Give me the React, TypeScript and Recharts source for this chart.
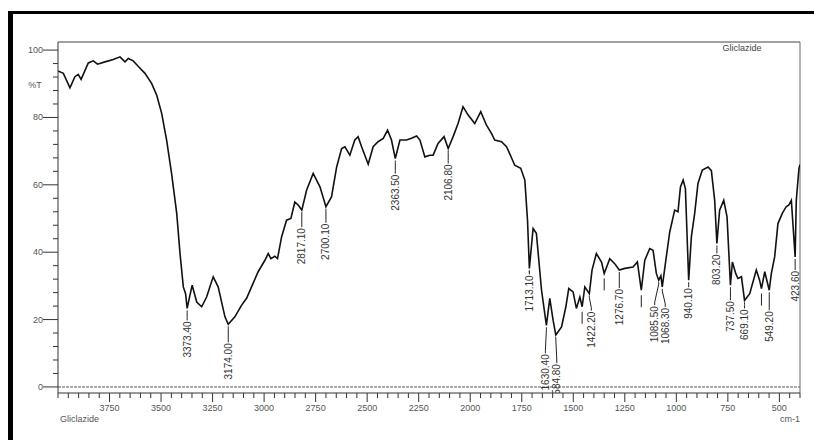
import { ComposedChart, Line, Scatter, XAxis, YAxis, ReferenceLine } from 'recharts'

// IR spectrum of Gliclazide, wavenumber (cm-1) vs %T
const wavenumbers = [
    4000, 3974, 3942, 3918, 3902, 3888, 3853, 3829, 3808, 3772, 3732, 3699, 3675, 3659, 3635, 3611,
    3578, 3546, 3521, 3497, 3473, 3449, 3424, 3408, 3392, 3381, 3373.4, 3360, 3349, 3327, 3303, 3279,
    3247, 3223, 3190, 3174, 3142, 3109, 3085, 3061, 3029, 2996, 2980, 2967, 2948, 2935, 2915, 2891,
    2870, 2851, 2835, 2817.1, 2794, 2762, 2729, 2700.1, 2673, 2648, 2624, 2608, 2584, 2560, 2544, 2527,
    2495, 2471, 2447, 2422, 2401, 2382, 2363.5, 2341, 2309, 2285, 2260, 2244, 2220, 2196, 2180, 2156,
    2127, 2106.8, 2083, 2059, 2035, 2010, 1978, 1949, 1921, 1897, 1881, 1848, 1824, 1816, 1784, 1755,
    1735, 1722, 1713.1, 1695, 1679, 1654, 1630.4, 1614, 1598, 1584.8, 1557, 1536, 1522, 1501, 1485,
    1468, 1457, 1444, 1422.2, 1409, 1388, 1363, 1350, 1323, 1299, 1276.7, 1250, 1210, 1189, 1170,
    1153, 1129, 1113, 1097, 1085.5, 1075, 1068.3, 1051, 1032, 1008, 992, 980, 967, 956, 940.1, 927,
    911, 895, 874, 846, 830, 814, 803.2, 790, 770, 754, 737.5, 728, 712, 701, 684, 669.1, 644, 612,
    596, 587, 571, 549.2, 539, 523, 507, 486, 467, 454, 442, 423.6, 418, 405, 400,
]
const transmittance = [
    93.8, 93.1, 88.8, 92.1, 92.8, 91.3, 96.2, 96.8, 95.8, 96.5, 97.2, 98.0, 96.5, 97.5, 96.8, 95.2,
    93.1, 90.1, 86.6, 81.2, 73.3, 63.4, 51.5, 39.6, 29.7, 27.7, 23.3, 27.2, 30.2, 25.2, 23.8, 26.7,
    32.7, 29.7, 20.8, 18.6, 20.8, 24.3, 26.3, 29.7, 34.2, 37.6, 39.6, 38.1, 38.8, 38.1, 44.6, 49.5,
    50.0, 54.9, 54.0, 52.5, 58.4, 63.4, 59.4, 53.5, 56.4, 65.3, 70.8, 71.3, 68.8, 73.3, 74.3, 71.3,
    66.1, 71.3, 72.8, 73.8, 76.2, 73.3, 67.8, 73.3, 73.3, 73.8, 74.5, 73.3, 68.3, 68.8, 68.8, 72.3,
    74.3, 70.8, 74.3, 78.2, 83.2, 80.7, 78.2, 81.7, 77.7, 75.3, 73.3, 72.8, 71.3, 70.3, 65.8, 64.9,
    61.4, 49.5, 35.2, 47.0, 45.6, 28.7, 18.3, 26.3, 19.8, 15.4, 17.8, 23.8, 29.2, 28.2, 23.3,
    26.7, 23.8, 29.7, 27.7, 34.7, 39.6, 37.1, 33.7, 38.1, 36.6, 34.7, 35.2, 35.6, 37.1, 28.7,
    37.6, 41.1, 40.6, 33.7, 31.7, 33.0, 29.7, 37.6, 46.0, 52.5, 52.0, 59.4, 61.4, 58.9, 31.7, 44.6,
    51.5, 60.4, 64.4, 65.3, 64.2, 55.4, 42.6, 52.5, 55.4, 50.5, 30.2, 37.1, 33.7, 32.2, 32.7, 25.7, 27.7, 34.7,
    31.7, 29.2, 34.2, 28.7, 33.7, 38.6, 48.5, 51.5, 53.5, 54.0, 55.4, 38.6, 55.4, 64.9, 66.0,
]

const peakLabels = [
    '3373.40', '3174.00', '2817.10', '2700.10', '2363.50', '2106.80', '1713.10', '1630.40', '1584.80',
    '1422.20', '1276.70', '1085.50', '1068.30', '940.10', '803.20', '737.50', '669.10', '549.20', '423.60',
]
// unlabelled peak marks
const minorMarks = [1457, 1350, 1170, 587]

const xLabelTicks = [3750, 3500, 3250, 3000, 2750, 2500, 2250, 2000, 1750, 1500, 1250, 1000, 750, 500]
const yLabelTicks = [0, 20, 40, 60, 80, 100]

// gap in px from peak to the label text
const labelGap: Record<string, number> = {
    '3373.40': 12, '3174.00': 18, '2817.10': 17, '2700.10': 16, '2363.50': 15, '2106.80': 15,
    '1713.10': 6, '1630.40': 28, '1584.80': 28, '1422.20': 17, '1276.70': 18, '1085.50': 25,
    '1068.30': 20, '940.10': 7, '803.20': 10, '737.50': 15, '669.10': 8, '549.20': 20, '423.60': 13,
}
// sideways shift of crowded labels
const labelShift: Record<string, number> = {
    '1085.50': -4, '1068.30': 3, '1422.20': 2, '1630.40': -1, '1584.80': 1,
}

const spectrum = wavenumbers.map((wn, i) => ({ wn, t: transmittance[i] }))
const lookup = (wn: number) => {
    const i = wavenumbers.findIndex((w) => Math.abs(w - wn) < 0.01)
    return transmittance[i]
}
const peaks = peakLabels.map((label) => {
    const wn = parseFloat(label)
    return { wn, p: lookup(wn), label }
})
const marks = minorMarks.map((wn) => ({ wn, p: lookup(wn), label: '' }))

const xTicks: number[] = []
for (let v = 400; v <= 4000; v += 50) xTicks.push(v)
const yTicks: number[] = []
for (let v = 0; v <= 100; v += 4) yTicks.push(v)

const FONT = '"Liberation Sans", Arial, sans-serif'

const XTick = (props: any) => {
    const { x, y, payload } = props
    const major = xLabelTicks.includes(payload.value)
    return (
        <g>
            <line x1={x} y1={y} x2={x} y2={y + (major ? 9 : 5)} stroke='#333' strokeWidth={1} />
            {major && (
                <text x={x} y={y + 18} textAnchor='middle' fontSize={9} fill='#555' fontFamily={FONT}>
                    {payload.value}
                </text>
            )}
        </g>
    )
}

const YTick = (props: any) => {
    const { x, y, payload } = props
    const major = yLabelTicks.includes(payload.value)
    return (
        <g>
            <line x1={x - (major ? 15 : 5)} y1={y} x2={x} y2={y} stroke='#333' strokeWidth={1} />
            {major && (
                <text x={x - 15} y={y + 3} textAnchor='end' fontSize={9} fill='#555' fontFamily={FONT}>
                    {payload.value}
                </text>
            )}
        </g>
    )
}

const PeakMark = (props: any) => {
    const { cx, cy, payload } = props
    if (!payload.label) {
        return <line x1={cx} y1={cy + 5} x2={cx} y2={cy + 17} stroke='#222' strokeWidth={1} />
    }
    const gap = labelGap[payload.label] ?? 12
    const shift = labelShift[payload.label] ?? 0
    const top = cy + gap
    const tx = cx + shift
    return (
        <g>
            <polyline
                points={`${cx},${cy + 2} ${cx},${cy + 4} ${tx},${top - 3} ${tx},${top}`}
                fill='none'
                stroke='#222'
                strokeWidth={1}
            />
            <text
                x={tx}
                y={top + 1}
                transform={`rotate(-90, ${tx}, ${top + 1})`}
                textAnchor='end'
                dominantBaseline='central'
                fontSize={10}
                fill='#333'
                fontFamily={FONT}
            >
                {payload.label}
            </text>
        </g>
    )
}

export default function App() {
    return (
        <div style={{ position: 'absolute', left: 0, top: 0, width: 814, height: 440, background: '#fff' }}>
            <div
                style={{
                    position: 'absolute',
                    left: 8,
                    top: 11,
                    width: 806,
                    height: 429,
                    borderTop: '3px solid #000',
                    borderLeft: '5px solid #000',
                    boxSizing: 'border-box',
                }}
            />
            <ComposedChart
                width={814}
                height={440}
                data={spectrum}
                margin={{ top: 42, right: 14, bottom: 0, left: 0 }}
                style={{ position: 'absolute', left: 0, top: 0 }}
            >
                <XAxis
                    dataKey='wn'
                    type='number'
                    domain={[400, 4000]}
                    reversed
                    ticks={xTicks}
                    interval={0}
                    tickSize={0}
                    tickMargin={0}
                    tick={<XTick />}
                    height={47}
                    allowDataOverflow
                    axisLine={{ stroke: '#333', strokeWidth: 1 }}
                />
                <YAxis
                    type='number'
                    domain={[-1.8, 102.4]}
                    ticks={yTicks}
                    interval={0}
                    tickSize={0}
                    tickMargin={0}
                    tick={<YTick />}
                    width={58}
                    allowDataOverflow
                    axisLine={{ stroke: '#333', strokeWidth: 1 }}
                />
                <ReferenceLine y={0} stroke='#aaa' strokeWidth={2} strokeDasharray='3 1' />
                <ReferenceLine y={102.4} stroke='#444' strokeWidth={1.2} />
                <ReferenceLine x={400} stroke='#666' strokeWidth={1} />
                <Line
                    dataKey='t'
                    type='linear'
                    stroke='#111'
                    strokeWidth={1.6}
                    dot={false}
                    isAnimationActive={false}
                />
                <Scatter data={peaks} dataKey='p' shape={<PeakMark />} isAnimationActive={false} />
                <Scatter data={marks} dataKey='p' shape={<PeakMark />} isAnimationActive={false} />
                <text x={35} y={88} textAnchor='middle' fontSize={9} fill='#555' fontFamily={FONT}>
                    %T
                </text>
                <text x={742} y={51} textAnchor='middle' fontSize={9} fill='#444' fontFamily={FONT}>
                    Gliclazide
                </text>
                <text x={60} y={422} textAnchor='start' fontSize={9} fill='#555' fontFamily={FONT}>
                    Gliclazide
                </text>
                <text x={800} y={422} textAnchor='end' fontSize={9} fill='#555' fontFamily={FONT}>
                    cm-1
                </text>
            </ComposedChart>
        </div>
    )
}
